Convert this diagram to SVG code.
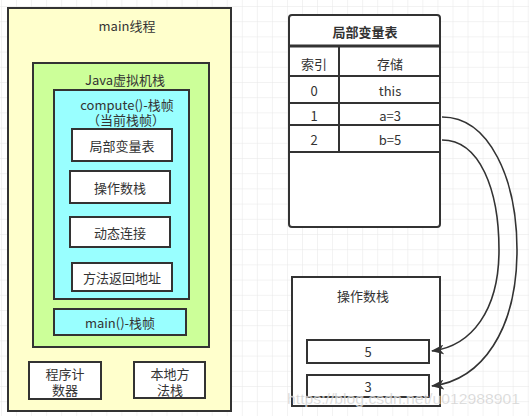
<svg xmlns="http://www.w3.org/2000/svg" width="529" height="416" viewBox="0 0 529 416">
<style>
.t{font-family:"Noto Sans CJK SC","Noto Sans",sans-serif;font-size:13px;fill:#333;text-anchor:middle;dominant-baseline:central}
.b{font-weight:bold}
.bx{stroke:#333;stroke-width:2}
.ln{stroke:#333;stroke-width:2;fill:none}
.cn{stroke:#333;stroke-width:1.6;fill:none}
.wm{font-family:"Liberation Sans",Arial,sans-serif;font-size:15px;fill:#bbb;fill-opacity:0.75;stroke:#fff;stroke-width:0.6;stroke-opacity:0.6}
</style>
<defs>
<pattern id="grid" x="1" y="6" width="15.05" height="15.2" patternUnits="userSpaceOnUse">
<path d="M0,0 H15.05 M0,0 V15.2" stroke="#e6e6e6" stroke-width="1" fill="none"/>
</pattern>
<marker id="arr" viewBox="0 0 13 10" refX="12" refY="5" markerWidth="13" markerHeight="10" markerUnits="userSpaceOnUse" orient="auto">
<path d="M0,0 L13,5 L0,10 L3.5,5 z" fill="#333"/>
</marker>
</defs>
<rect width="529" height="416" fill="#fff"/>
<rect width="529" height="416" fill="url(#grid)"/>

<g id="main-thread">
<rect class="bx" x="8" y="8" width="223" height="403" fill="#ffffcc"/>
<text class="t" x="127" y="25">main线程</text>
</g>
<g id="jvm-stack">
<rect class="bx" x="33" y="63" width="176" height="284" fill="#ccff99"/>
<text class="t" x="125" y="79">Java虚拟机栈</text>
</g>
<g id="compute-frame">
<rect class="bx" x="54" y="90" width="135" height="209" fill="#99ffff"/>
<text class="t" x="127" y="104">compute()-栈帧<tspan x="126" dy="15">（当前栈帧）</tspan></text>
</g>
<g id="local-vars">
<rect class="bx" x="72" y="129" width="100" height="32" fill="#fff"/>
<text class="t" x="122" y="145">局部变量表</text>
</g>
<g id="operand-stack">
<rect class="bx" x="70" y="171" width="100" height="32" fill="#fff"/>
<text class="t" x="120" y="187">操作数栈</text>
</g>
<g id="dynamic-link">
<rect class="bx" x="70" y="217" width="100" height="30" fill="#fff"/>
<text class="t" x="120" y="232">动态连接</text>
</g>
<g id="return-addr">
<rect class="bx" x="72" y="263" width="100" height="28" fill="#fff"/>
<text class="t" x="122" y="277">方法返回地址</text>
</g>
<g id="main-frame">
<rect class="bx" x="54" y="309" width="132" height="26" fill="#99ffff"/>
<text class="t" x="120" y="322">main()-栈帧</text>
</g>
<g id="pc">
<rect class="bx" x="29" y="362" width="72" height="37" fill="#fff"/>
<text class="t" x="65" y="373">程序计<tspan x="65" dy="16">数器</tspan></text>
</g>
<g id="native-stack">
<rect class="bx" x="134" y="362" width="71" height="36" fill="#fff"/>
<text class="t" x="170" y="373">本地方<tspan x="170" dy="16">法栈</tspan></text>
</g>

<g id="lv-table">
<rect class="bx" x="289" y="15" width="151" height="212" rx="3" fill="#fff"/>
<text class="t b" x="365" y="31">局部变量表</text>
<line x1="289" y1="46" x2="440" y2="46" stroke="#333" stroke-width="3"/>
<line class="ln" x1="339" y1="46" x2="339" y2="152"/>
<line class="ln" x1="289" y1="76" x2="440" y2="76"/>
<line class="ln" x1="289" y1="103" x2="440" y2="103"/>
<line class="ln" x1="289" y1="125" x2="440" y2="125"/>
<line class="ln" x1="289" y1="152" x2="440" y2="152"/>
<text class="t" x="314" y="63">索引</text>
<text class="t" x="390" y="63">存储</text>
<text class="t" x="314" y="90">0</text>
<text class="t" x="390" y="90">this</text>
<text class="t" x="314" y="115.5">1</text>
<text class="t" x="390" y="115.5">a=3</text>
<text class="t" x="314" y="139">2</text>
<text class="t" x="390" y="139">b=5</text>
</g>

<g id="op-stack">
<rect class="bx" x="292" y="277" width="148" height="129" fill="#fff"/>
<text class="t" x="363" y="295">操作数栈</text>
</g>
<g id="val-5">
<rect class="bx" x="307" y="340" width="122" height="23" fill="#fff"/>
<text class="t" x="368" y="351.5">5</text>
</g>
<g id="val-3">
<rect class="bx" x="307" y="375" width="122" height="22" fill="#fff"/>
<text class="t" x="368" y="386">3</text>
</g>

<g id="connectors">
<path class="cn" d="M442,117 C490,117 517,180 517,250 C517,330 482,380 432,386" marker-end="url(#arr)"/>
<path class="cn" d="M442,140 C480,140 499,190 499,250 C499,310 472,346 432,351" marker-end="url(#arr)"/>
</g>

<text class="wm" x="287" y="404" textLength="233" lengthAdjust="spacingAndGlyphs">https://blog.csdn.net/u012988901</text>
</svg>
